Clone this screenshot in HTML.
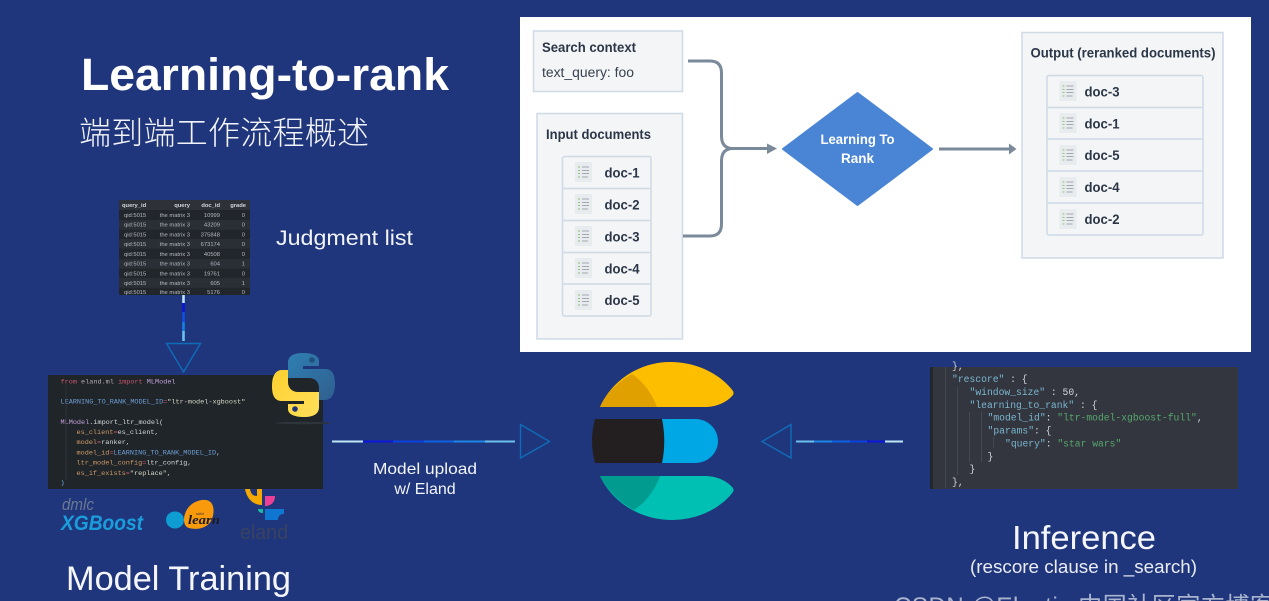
<!DOCTYPE html>
<html lang="en"><head><meta charset="utf-8"><title>Learning-to-rank</title>
<style>html,body{margin:0;padding:0;background:#20367c;width:1269px;height:601px;overflow:hidden}svg{display:block}
text{font-family:"Liberation Sans","Noto Sans CJK SC",sans-serif}
.m text,text.m{font-family:"Liberation Mono",monospace}
.d{font-weight:bold;font-size:14px;fill:#2b3647}
.h{font-weight:bold;font-size:13.5px;fill:#2b3647}
</style></head><body>
<svg xmlns="http://www.w3.org/2000/svg" width="1269" height="601" viewBox="0 0 1269 601">
<defs>
<filter id="b"><feGaussianBlur stdDeviation="0.35"/></filter>
<filter id="b2"><feGaussianBlur stdDeviation="0.25"/></filter>
<linearGradient id="py1" x1="0" y1="0" x2="1" y2="1"><stop offset="0" stop-color="#2f7fb2"/><stop offset="1" stop-color="#2f5f8f"/></linearGradient>
<linearGradient id="py2" x1="0" y1="0" x2="1" y2="1"><stop offset="0" stop-color="#ffe05a"/><stop offset="1" stop-color="#ffd02f"/></linearGradient>
<symbol id="ic" width="17" height="20" viewBox="0 0 17 20"><rect width="17" height="20" fill="#e9ecef"/><path d="M7 5H14M7 8.5H14M7 11.5H14M7 15H13" stroke="#8b939c" stroke-width=".8"/><path d="M3 5H5M3 8.5H5M3 11.5H5M3 15H5" stroke="#8cc27a" stroke-width=".9"/></symbol>
</defs>
<rect width="1269" height="601" fill="#20367c"/>

<!-- titles -->
<text x="81" y="90" font-size="45" font-weight="bold" fill="#fff" textLength="368" lengthAdjust="spacingAndGlyphs">Learning-to-rank</text>
<text x="79" y="144" font-size="32" fill="#f2f4fa" textLength="290" style="font-family:'Noto Sans CJK SC',sans-serif;font-weight:300">端到端工作流程概述</text>
<text x="276" y="245" font-size="21.5" fill="#f2f4fa" textLength="137" lengthAdjust="spacingAndGlyphs">Judgment list</text>

<!-- white panel -->
<rect x="520" y="17" width="731" height="335" fill="#fff"/>
<rect x="533.5" y="31" width="149" height="60.5" fill="#f3f5f7" stroke="#cfdae5" stroke-width="1.5"/>
<text class="h" x="542" y="52" textLength="94" lengthAdjust="spacingAndGlyphs">Search context</text>
<text x="542" y="77" font-size="13.5" fill="#38414f" textLength="92" lengthAdjust="spacingAndGlyphs">text_query: foo</text>
<rect x="537" y="113.5" width="145.5" height="225.5" fill="#f3f5f7" stroke="#cfdae5" stroke-width="1.5"/>
<text class="h" x="546" y="139" textLength="105" lengthAdjust="spacingAndGlyphs">Input documents</text>
<g fill="#f3f5f7" stroke="#cfdae5" stroke-width="1.5">
<rect x="562.5" y="156.5" width="88.5" height="159.5" rx="2"/>
<path d="M562.5 188.5H651M562.5 220.5H651M562.5 252.5H651M562.5 284H651" fill="none"/>
</g>
<use href="#ic" x="575" y="162"/><use href="#ic" x="575" y="194"/><use href="#ic" x="575" y="226"/><use href="#ic" x="575" y="258"/><use href="#ic" x="575" y="290"/>
<text class="d" x="604.5" y="177.5" textLength="35" lengthAdjust="spacingAndGlyphs">doc-1</text><text class="d" x="604.5" y="209.5" textLength="35" lengthAdjust="spacingAndGlyphs">doc-2</text><text class="d" x="604.5" y="241.5" textLength="35" lengthAdjust="spacingAndGlyphs">doc-3</text><text class="d" x="604.5" y="273.5" textLength="35" lengthAdjust="spacingAndGlyphs">doc-4</text><text class="d" x="604.5" y="305" textLength="35" lengthAdjust="spacingAndGlyphs">doc-5</text>

<g fill="none" stroke="#7b8a9b" stroke-width="3">
<path d="M688 61H710Q721.500 61 721.500 73V136Q721.500 148.500 733 148.500H768"/>
<path d="M683 236H710Q721.500 236 721.500 224V161Q721.500 148.500 733 148.500"/>
<path d="M939 149H1009"/>
</g>
<path d="M767 143.500L777 148.500L767 154Z" fill="#7b8a9b"/>
<path d="M1009 143.500L1016.500 149L1009 154.500Z" fill="#7b8a9b"/>

<path d="M857.500 93L932 149L857.500 205L783 149Z" fill="#4a85d5" stroke="#4a85d5" stroke-width="2" stroke-linejoin="round"/>
<text x="857.500" y="144" text-anchor="middle" font-size="13.5" font-weight="bold" fill="#fff" textLength="74" lengthAdjust="spacingAndGlyphs">Learning To</text>
<text x="857.500" y="163" text-anchor="middle" font-size="13.5" font-weight="bold" fill="#fff">Rank</text>

<rect x="1022" y="32.5" width="201" height="225.5" fill="#f3f5f7" stroke="#cfdae5" stroke-width="1.5"/>
<text class="h" x="1030.5" y="57.5" textLength="185" lengthAdjust="spacingAndGlyphs">Output (reranked documents)</text>
<g fill="#f3f5f7" stroke="#cfdae5" stroke-width="1.5">
<rect x="1047" y="75.5" width="156" height="159.5" rx="2"/>
<path d="M1047 107.5H1203M1047 139H1203M1047 171H1203M1047 203H1203" fill="none"/>
</g>
<use href="#ic" x="1059.5" y="81"/><use href="#ic" x="1059.5" y="113"/><use href="#ic" x="1059.5" y="145"/><use href="#ic" x="1059.5" y="177"/><use href="#ic" x="1059.5" y="209"/>
<text class="d" x="1084.5" y="96.5" textLength="35" lengthAdjust="spacingAndGlyphs">doc-3</text><text class="d" x="1084.5" y="128.5" textLength="35" lengthAdjust="spacingAndGlyphs">doc-1</text><text class="d" x="1084.5" y="160" textLength="35" lengthAdjust="spacingAndGlyphs">doc-5</text><text class="d" x="1084.5" y="192" textLength="35" lengthAdjust="spacingAndGlyphs">doc-4</text><text class="d" x="1084.5" y="224" textLength="35" lengthAdjust="spacingAndGlyphs">doc-2</text>

<!-- judgment table -->
<g filter="url(#b)">
<rect x="119" y="200" width="131" height="95" fill="#22272c"/>
<rect x="119" y="200" width="131" height="10" fill="#2d3237"/>
<g fill="#2a2f34"><rect x="119" y="220" width="131" height="9.7"/><rect x="119" y="239" width="131" height="9.7"/><rect x="119" y="259" width="131" height="9.7"/><rect x="119" y="278" width="131" height="9.7"/></g>
<g font-size="5.8" fill="#d4d7da" font-weight="bold">
<text x="122" y="207">query_id</text><text x="190" y="207" text-anchor="end">query</text><text x="220" y="207" text-anchor="end">doc_id</text><text x="246" y="207" text-anchor="end">grade</text></g>
<g font-size="5.8" fill="#b4b9be">
<text x="124" y="217">qid:5015</text><text x="190" y="217" text-anchor="end">the matrix 3</text><text x="220" y="217" text-anchor="end">10999</text><text x="245" y="217" text-anchor="end">0</text>
<text x="124" y="226.7">qid:5015</text><text x="190" y="226.7" text-anchor="end">the matrix 3</text><text x="220" y="226.7" text-anchor="end">43209</text><text x="245" y="226.7" text-anchor="end">0</text>
<text x="124" y="236.4">qid:5015</text><text x="190" y="236.4" text-anchor="end">the matrix 3</text><text x="220" y="236.4" text-anchor="end">375848</text><text x="245" y="236.4" text-anchor="end">0</text>
<text x="124" y="246">qid:5015</text><text x="190" y="246" text-anchor="end">the matrix 3</text><text x="220" y="246" text-anchor="end">673174</text><text x="245" y="246" text-anchor="end">0</text>
<text x="124" y="256">qid:5015</text><text x="190" y="256" text-anchor="end">the matrix 3</text><text x="220" y="256" text-anchor="end">40508</text><text x="245" y="256" text-anchor="end">0</text>
<text x="124" y="265.6">qid:5015</text><text x="190" y="265.6" text-anchor="end">the matrix 3</text><text x="220" y="265.6" text-anchor="end">604</text><text x="245" y="265.6" text-anchor="end">1</text>
<text x="124" y="275.4">qid:5015</text><text x="190" y="275.4" text-anchor="end">the matrix 3</text><text x="220" y="275.4" text-anchor="end">19761</text><text x="245" y="275.4" text-anchor="end">0</text>
<text x="124" y="285">qid:5015</text><text x="190" y="285" text-anchor="end">the matrix 3</text><text x="220" y="285" text-anchor="end">605</text><text x="245" y="285" text-anchor="end">1</text>
<text x="124" y="294">qid:5015</text><text x="190" y="294" text-anchor="end">the matrix 3</text><text x="220" y="294" text-anchor="end">5176</text><text x="245" y="294" text-anchor="end">0</text>
</g></g>

<!-- connectors -->
<g stroke-width="2.6" fill="none">
<path d="M183.500 295V303" stroke="#bfe6f7"/><path d="M183.500 303V312" stroke="#0a16dc"/><path d="M183.500 312V322" stroke="#0f4fe4"/><path d="M183.500 322V331" stroke="#1580e6"/><path d="M183.500 331V341" stroke="#6cc0ee"/>
</g>
<g stroke-width="2" fill="none">
<path d="M332 441.500H363" stroke="#bfe6f7"/><path d="M363 441.500H393" stroke="#0a16dc"/><path d="M393 441.500H424" stroke="#0c40e0"/><path d="M424 441.500H454" stroke="#0f60e4"/><path d="M454 441.500H485" stroke="#1f86e8"/><path d="M485 441.500H515" stroke="#6cc0ee"/>
<path d="M796 441.500H814" stroke="#6cc0ee"/><path d="M814 441.500H832" stroke="#1f86e8"/><path d="M832 441.500H850" stroke="#0f60e4"/><path d="M850 441.500H867" stroke="#0c40e0"/><path d="M867 441.500H885" stroke="#0a16dc"/><path d="M885 441.500H903" stroke="#bfe6f7"/>
</g>
<g fill="none" stroke="#0f6cb8" stroke-width="1.4">
<path d="M166.500 343.500H200.500L183.500 372Z"/>
<path d="M520.500 424.500V458L549.500 441.500Z"/>
<path d="M791 424.500V458L762 441.500Z"/>
</g>

<!-- left code -->
<rect x="48" y="375" width="275" height="114" fill="#1f2529"/>
<g class="m" font-size="6.85" filter="url(#b2)" xml:space="preserve">
<text x="60.500" y="383.500"><tspan fill="#c9566b">from</tspan><tspan fill="#b8a9b0"> eland.ml </tspan><tspan fill="#c9566b">import</tspan><tspan fill="#c5a0dc"> MLModel</tspan></text>
<text x="60.500" y="403.500"><tspan fill="#6f9fd8">LEARNING_TO_RANK_MODEL_ID</tspan><tspan fill="#c9566b">=</tspan><tspan fill="#d9d9c8">"ltr-model-xgboost"</tspan></text>
<text x="60.500" y="424"><tspan fill="#c5a0dc">MLModel</tspan><tspan fill="#d5d8dc">.import_ltr_model(</tspan></text>
<text x="76.500" y="434"><tspan fill="#d19a66">es_client</tspan><tspan fill="#c9566b">=</tspan><tspan fill="#d5d8dc">es_client,</tspan></text>
<text x="76.500" y="444.200"><tspan fill="#d19a66">model</tspan><tspan fill="#c9566b">=</tspan><tspan fill="#d5d8dc">ranker,</tspan></text>
<text x="76.500" y="454.400"><tspan fill="#d19a66">model_id</tspan><tspan fill="#c9566b">=</tspan><tspan fill="#6f9fd8">LEARNING_TO_RANK_MODEL_ID</tspan><tspan fill="#d5d8dc">,</tspan></text>
<text x="76.500" y="464.600"><tspan fill="#d19a66">ltr_model_config</tspan><tspan fill="#c9566b">=</tspan><tspan fill="#d5d8dc">ltr_config,</tspan></text>
<text x="76.500" y="474.800"><tspan fill="#d19a66">es_if_exists</tspan><tspan fill="#c9566b">=</tspan><tspan fill="#d9d9c8">"replace",</tspan></text>
<text x="60.500" y="484.500" fill="#6fb0e8">)</text>
</g>
<path d="M66 385V480" stroke="#333a40" stroke-width="0.7"/>
<ellipse cx="303" cy="423" rx="28" ry="1.2" fill="#2d343a"/>

<!-- python logo -->
<path d="M303 353C292 353 288 357 288 363V378H309C315 378 319 382 319 388V400H325C332 400 335 393 335 384C335 374 332 369 325 369H303V366H319V361C319 356 313 353 303 353Z" fill="url(#py1)"/>
<path d="M303 353C292 353 288 357 288 363V378H309C315 378 319 382 319 388V400H325C332 400 335 393 335 384C335 374 332 369 325 369H303V366H319V361C319 356 313 353 303 353Z" fill="url(#py2)" transform="rotate(180 303.5 385)"/>
<circle cx="312" cy="360" r="2.8" fill="#1f4f7c"/><circle cx="295" cy="409" r="2.8" fill="#1f3579"/>

<!-- library logos -->
<text x="62" y="510" font-size="17" font-style="italic" fill="#6b7894" textLength="32" lengthAdjust="spacingAndGlyphs">dmlc</text>
<text x="61" y="530" font-size="21" font-weight="bold" font-style="italic" fill="#1a9edb" textLength="82" lengthAdjust="spacingAndGlyphs">XGBoost</text>
<ellipse cx="175" cy="520" rx="9" ry="8.5" fill="#0e9dd2"/>
<path d="M184 519C185 506 196 499 206 500C214 501 215 511 212 519C208 529 196 530 189 528C185 527 184 523 184 519Z" fill="#f89a0c"/>
<text x="188" y="524" font-size="12.5" font-style="italic" font-weight="bold" fill="#1a1a22" style="font-family:'Liberation Serif',serif" textLength="32" lengthAdjust="spacingAndGlyphs">learn</text>
<text x="196" y="515" font-size="3.5" fill="#333">scikit</text>
<path d="M245 489H250C251 494 253 496 257 496V489H262V505C253 505 247 499 245 489Z" fill="#f5a800"/>
<path d="M265 496H275C275 503 270 506 265 506Z" fill="#ee3f96"/>
<path d="M258 509H263V513C260 513 258 512 258 509Z" fill="#1cb9a2"/>
<path d="M265 509H284V514C280 514 278 516 278 520H265Z" fill="#0f76d2"/>
<text x="240" y="539" font-size="20" fill="#39435f" textLength="48" lengthAdjust="spacingAndGlyphs">eland</text>

<!-- model upload -->
<text x="425" y="474" text-anchor="middle" font-size="16" fill="#f2f4fa" textLength="104" lengthAdjust="spacingAndGlyphs">Model upload</text>
<text x="425" y="494" text-anchor="middle" font-size="16" fill="#f2f4fa">w/ Eland</text>
<text x="66" y="590" font-size="34" fill="#f5f6fb" textLength="225" lengthAdjust="spacingAndGlyphs">Model Training</text>

<!-- elastic logo -->
<path d="M600 407C612 380 640 362 670 362C698 362 721 375 733 391Q734 393 733 395C727 402 717 407 705 407Z" fill="#fdbe00"/>
<path d="M600 407C606 393 618 382 632 374C644 382 652 394 657 407Z" fill="#e0a100"/>
<path d="M661 419H695C708 419 718 429 718 441C718 453 708 463 695 463H661C665 449 665 433 661 419Z" fill="#00a7e5"/>
<path d="M595 419H662C665 433 665 449 662 463H595C591 449 591 433 595 419Z" fill="#231f20"/>
<path d="M600 476H705C717 476 727 481 733 488Q734 490 733 492C721 508 698 520 672 520C640 520 612 502 600 476Z" fill="#00bfb3"/>
<path d="M600 476H660C655 490 646 502 634 510C619 502 607 490 600 476Z" fill="#019b8f"/>

<!-- right code -->
<rect x="930" y="367" width="308" height="122" fill="#33363f"/>
<rect x="930" y="367" width="3" height="122" fill="#23262d"/>
<g stroke="#454953" stroke-width="1" fill="none"><path d="M945.500 367V488M957.500 387V475M969.500 412V462M981.500 412V462M993.500 437V448"/></g>
<g class="m" font-size="9.7" filter="url(#b2)" xml:space="preserve">
<text x="952" y="369" fill="#cfd3d8">},</text>
<text x="952" y="382"><tspan fill="#7ab6cf">"rescore"</tspan><tspan fill="#cfd3d8"> : {</tspan></text>
<text x="969.500" y="395"><tspan fill="#7ab6cf">"window_size"</tspan><tspan fill="#cfd3d8"> : 50,</tspan></text>
<text x="969.500" y="408"><tspan fill="#7ab6cf">"learning_to_rank"</tspan><tspan fill="#cfd3d8"> : {</tspan></text>
<text x="987.500" y="420.500"><tspan fill="#7ab6cf">"model_id"</tspan><tspan fill="#cfd3d8">: </tspan><tspan fill="#54a86a">"ltr-model-xgboost-full"</tspan><tspan fill="#cfd3d8">,</tspan></text>
<text x="987.500" y="433.500"><tspan fill="#7ab6cf">"params"</tspan><tspan fill="#cfd3d8">: {</tspan></text>
<text x="1005" y="446.500"><tspan fill="#7ab6cf">"query"</tspan><tspan fill="#cfd3d8">: </tspan><tspan fill="#54a86a">"star wars"</tspan></text>
<text x="987.500" y="459.500" fill="#cfd3d8">}</text>
<text x="969.500" y="472" fill="#cfd3d8">}</text>
<text x="952" y="485" fill="#cfd3d8">},</text>
</g>

<text x="1012" y="549" font-size="33" fill="#f5f6fb" textLength="144" lengthAdjust="spacingAndGlyphs">Inference</text>
<text x="970" y="573" font-size="18.5" fill="#e9ecf5" textLength="227" lengthAdjust="spacingAndGlyphs">(rescore clause in _search)</text>
<text x="894" y="614" font-size="24" fill="#a9b4cf" textLength="380" style="font-family:'Liberation Sans','Noto Sans CJK SC',sans-serif">CSDN @Elastic 中国社区官方博客</text>
</svg>
</body></html>
